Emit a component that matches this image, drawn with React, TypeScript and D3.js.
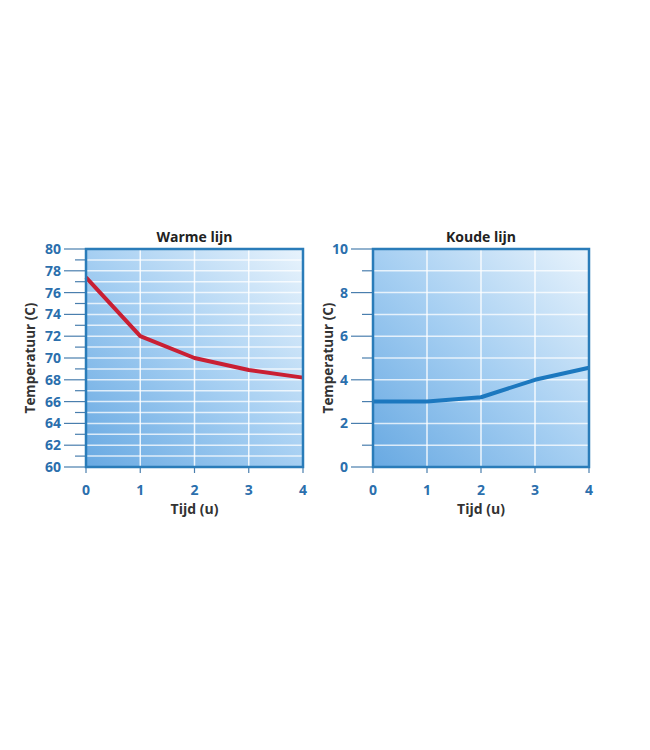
import { useEffect, useRef } from 'react';
import * as d3 from 'd3';

// Hours on the x axis
const hours = [0, 1, 2, 3, 4];

// Warm line (°C)
const warmValues = [77.4, 72.0, 70.0, 68.9, 68.2];
const warmTicks = [60, 62, 64, 66, 68, 70, 72, 74, 76, 78, 80];

// Cold line (°C)
const coldValues = [3.0, 3.0, 3.2, 4.0, 4.55];
const coldTicks = [0, 2, 4, 6, 8, 10];

interface PanelSpec {
    id: string;
    title: string;
    values: number[];
    yDomain: [number, number];
    yTicks: number[];
    lineColor: string;
    left: number;
    right: number;
    labelX: number;
}

const panels: PanelSpec[] = [
    { id: 'warm', title: 'Warme lijn', values: warmValues, yDomain: [60, 80], yTicks: warmTicks, lineColor: '#c91f33', left: 86, right: 303, labelX: 30 },
    { id: 'cold', title: 'Koude lijn', values: coldValues, yDomain: [0, 10], yTicks: coldTicks, lineColor: '#1c78bf', left: 373, right: 589, labelX: 328 }
];

const top = 249;
const bottom = 467;
const axisBlue = '#2b6fad';
const frameBlue = '#2a7cb9';
const font = '"Open Sans", "DejaVu Sans", sans-serif';

const App = () => {
    const svgRef = useRef<SVGSVGElement>(null);

    useEffect(() => {
        if (!svgRef.current) return;
        const svg = d3.select(svgRef.current);
        svg.selectAll('*').remove();

        const defs = svg.append('defs');

        panels.forEach(p => {
            const x = d3.scaleLinear().domain([0, 4]).range([p.left, p.right]);
            const y = d3.scaleLinear().domain(p.yDomain).range([bottom, top]);

            // Background gradient, dark bottom-left to light top-right
            const grad = defs.append('linearGradient')
                .attr('id', `bg-${p.id}`)
                .attr('x1', '0%').attr('y1', '100%')
                .attr('x2', '100%').attr('y2', '0%');
            grad.append('stop').attr('offset', '0%').attr('stop-color', '#68a9e2');
            grad.append('stop').attr('offset', '50%').attr('stop-color', '#a6cff2');
            grad.append('stop').attr('offset', '100%').attr('stop-color', '#e8f3fc');

            const g = svg.append('g');

            g.append('rect')
                .attr('x', p.left)
                .attr('y', top)
                .attr('width', p.right - p.left)
                .attr('height', bottom - top)
                .attr('fill', `url(#bg-${p.id})`);

            // Horizontal grid: one line per unit
            const minorStep = 1;
            const gridValues = d3.range(p.yDomain[0] + minorStep, p.yDomain[1], minorStep);
            g.append('g')
                .selectAll('line')
                .data(gridValues)
                .enter().append('line')
                .attr('x1', p.left).attr('x2', p.right)
                .attr('y1', d => y(d)).attr('y2', d => y(d))
                .attr('stroke', '#ffffff')
                .attr('stroke-opacity', 0.75)
                .attr('stroke-width', 1.5);

            // Vertical grid
            g.append('g')
                .selectAll('line')
                .data(hours.slice(1, -1))
                .enter().append('line')
                .attr('x1', d => x(d)).attr('x2', d => x(d))
                .attr('y1', top).attr('y2', bottom)
                .attr('stroke', '#ffffff')
                .attr('stroke-opacity', 0.85)
                .attr('stroke-width', 1.5);

            // Y ticks: long for labelled, short for the rest
            const allTicks = d3.range(p.yDomain[0], p.yDomain[1] + 0.001, minorStep);
            g.append('g')
                .selectAll('line')
                .data(allTicks)
                .enter().append('line')
                .attr('x1', d => p.left - (p.yTicks.includes(d) ? 22 : 11))
                .attr('x2', p.left)
                .attr('y1', d => y(d)).attr('y2', d => y(d))
                .attr('stroke', '#4a7fae')
                .attr('stroke-width', 1.2);

            g.append('g')
                .selectAll('text')
                .data(p.yTicks)
                .enter().append('text')
                .attr('x', p.left - 25)
                .attr('y', d => y(d))
                .attr('dy', '0.36em')
                .attr('text-anchor', 'end')
                .attr('fill', axisBlue)
                .style('font-family', font)
                .style('font-weight', 700)
                .style('font-size', '14px')
                .text(d => d);

            // X ticks
            g.append('g')
                .selectAll('line')
                .data(hours)
                .enter().append('line')
                .attr('x1', d => x(d)).attr('x2', d => x(d))
                .attr('y1', bottom).attr('y2', bottom + 6)
                .attr('stroke', '#4a7fae')
                .attr('stroke-width', 1.2);

            g.append('g')
                .selectAll('text')
                .data(hours)
                .enter().append('text')
                .attr('x', d => x(d))
                .attr('y', bottom + 28)
                .attr('text-anchor', 'middle')
                .attr('fill', axisBlue)
                .style('font-family', font)
                .style('font-weight', 700)
                .style('font-size', '14px')
                .text(d => d);

            // Data line
            const line = d3.line<number>()
                .x((_, i) => x(hours[i]))
                .y(d => y(d));

            g.append('path')
                .datum(p.values)
                .attr('fill', 'none')
                .attr('stroke', p.lineColor)
                .attr('stroke-width', 4)
                .attr('stroke-linejoin', 'round')
                .attr('d', line);

            // Frame
            g.append('rect')
                .attr('x', p.left)
                .attr('y', top)
                .attr('width', p.right - p.left)
                .attr('height', bottom - top)
                .attr('fill', 'none')
                .attr('stroke', frameBlue)
                .attr('stroke-width', 2.5);

            // Titles
            g.append('text')
                .attr('x', (p.left + p.right) / 2)
                .attr('y', top - 7)
                .attr('text-anchor', 'middle')
                .attr('fill', '#222')
                .style('font-family', font)
                .style('font-weight', 700)
                .style('font-size', '14px')
                .text(p.title);

            g.append('text')
                .attr('x', (p.left + p.right) / 2)
                .attr('y', bottom + 47)
                .attr('text-anchor', 'middle')
                .attr('fill', '#333')
                .style('font-family', font)
                .style('font-weight', 700)
                .style('font-size', '14px')
                .text('Tijd (u)');

            g.append('text')
                .attr('transform', `translate(${p.labelX},${(top + bottom) / 2}) rotate(-90)`)
                .attr('text-anchor', 'middle')
                .attr('dy', '0.35em')
                .attr('fill', '#333')
                .style('font-family', font)
                .style('font-weight', 700)
                .style('font-size', '13.5px')
                .text('Temperatuur (C)');
        });
    }, []);

    return (
        <svg ref={svgRef} width={650} height={750}
            style={{ position: 'absolute', left: 0, top: 0, background: '#fff' }} />
    );
};

export default App;
